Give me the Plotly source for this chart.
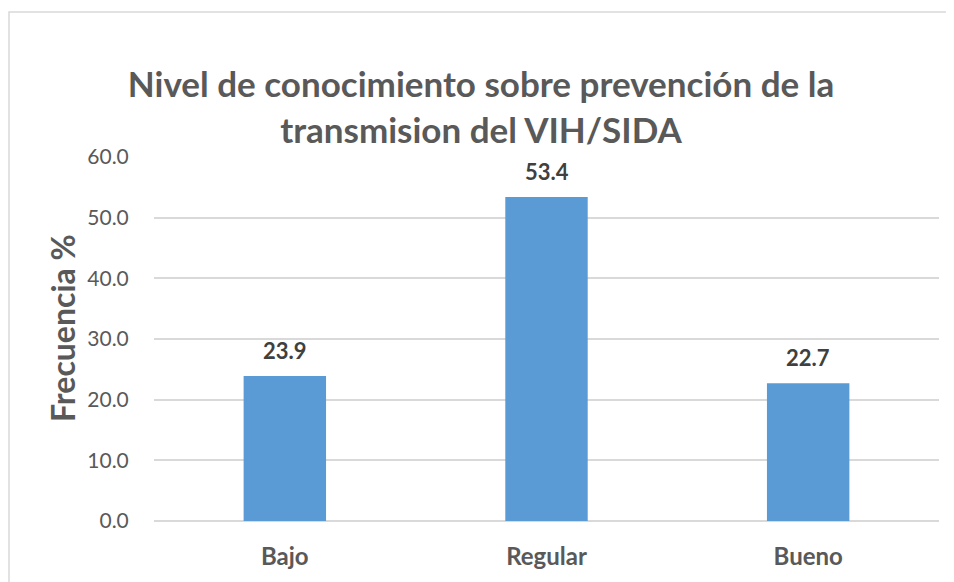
import plotly.graph_objects as go

categories = ["Bajo", "Regular", "Bueno"]
values = [23.9, 53.4, 22.7]
y_ticks = [0, 10, 20, 30, 40, 50, 60]
title_text = "Nivel de conocimiento sobre prevención de la<br>transmision del VIH/SIDA"
y_title = "Frecuencia %"

FONT = "Lato"
OFF = 8  # page body margin offset
fig = go.Figure()
fig.add_trace(go.Bar(
    x=categories, y=values, marker=dict(color="#5B9BD5", line=dict(width=0)),
    width=0.315, hoverinfo="skip",
))
for c, v in zip(categories, values):
    fig.add_annotation(x=c, y=v, text=f"<b>{v:.1f}</b>", showarrow=False,
                       yanchor="bottom", yshift=10,
                       font=dict(family=FONT, size=22, color="#404040"))

W, H = 954 - OFF, 582 - OFF
L, T = 154 - OFF, 157 - OFF
R = W - (939 - OFF)
B = H - (521 - OFF)
pw, ph = W - L - R, H - T - B
fig.add_shape(type="rect", xref="paper", yref="paper",
              x0=(9 - OFF - L) / pw, x1=(980 - L) / pw,
              y0=-0.5, y1=(H - B - (12 - OFF)) / ph,
              line=dict(color="#D9D9D9", width=1.5), fillcolor="rgba(0,0,0,0)", layer="below")

# y-axis title as rotated annotation (screen center x=62, y=328)
fig.add_annotation(xref="paper", yref="paper",
                   x=(62 - 154) / pw, y=(521 - 328) / ph,
                   xanchor="center", yanchor="middle", textangle=-90,
                   text=f"<b>{y_title}</b>", showarrow=False,
                   font=dict(family=FONT, size=32, color="#595959"))

fig.update_layout(
    width=W, height=H,
    margin=dict(l=L, r=R, t=T, b=B),
    paper_bgcolor="white", plot_bgcolor="white",
    showlegend=False,
    title=dict(text=f"<b>{title_text}</b>", x=0.5, xanchor="center",
               y=1 - (97 - OFF) / H, yanchor="middle",
               font=dict(family=FONT, size=35, color="#595959"),
               ),
    xaxis=dict(showgrid=False, showline=False, ticks="outside", ticklen=14,
               tickcolor="rgba(0,0,0,0)",
               tickfont=dict(family=FONT, size=24, color="#595959"),
               tickprefix="<b>", ticksuffix="</b>"),
    yaxis=dict(range=[0, 60], tickvals=y_ticks, tickformat=".1f",
               showgrid=True, gridcolor="#D9D9D9", gridwidth=1.5,
               zeroline=True, zerolinecolor="#D9D9D9", zerolinewidth=1.5,
               showline=False, ticks="outside", ticklen=20, tickcolor="rgba(0,0,0,0)",
               tickfont=dict(family=FONT, size=21, color="#595959")),
)
fig.write_html("out.html")
